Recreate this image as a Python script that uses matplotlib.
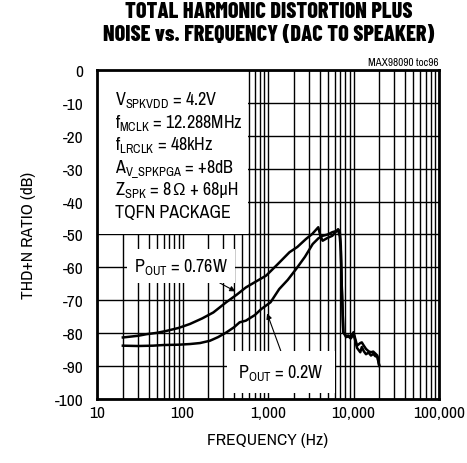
import matplotlib
matplotlib.use("Agg")
import matplotlib.pyplot as plt
from matplotlib.patches import Rectangle
from matplotlib.transforms import IdentityTransform
from matplotlib.ticker import FixedLocator, NullFormatter, LogLocator

BODY_FONT = ["Liberation Sans Narrow", "Archivo Narrow", "Liberation Sans", "DejaVu Sans"]
TITLE_FONT = ["Barlow Condensed", "Roboto Condensed", "Archivo Narrow", "DejaVu Sans"]

plt.rcParams["font.family"] = BODY_FONT
plt.rcParams["axes.unicode_minus"] = False
plt.rcParams["mathtext.fontset"] = "custom"
plt.rcParams["mathtext.rm"] = "Archivo Narrow"

# P_OUT = 0.76W
freq_076 = [20, 30, 38, 50, 65, 90, 122, 170, 229, 324, 430, 550, 700, 950,
            1300, 1780, 2200, 2770, 3300, 3870, 4100, 4350, 5000, 5650, 6600,
            6900, 7100, 7300, 7600, 8200, 8700, 9300, 10000, 11000, 12000,
            12500, 13200, 14000, 15000, 16000, 17000, 18000, 19000, 20000]
thd_076 = [-81.3, -80.8, -80.3, -79.9, -79.3, -78.4, -77.2, -75.5, -73.7, -70.6,
           -68.3, -66.1, -64.5, -62.5, -59.0, -55.4, -53.8, -51.4, -49.8, -47.8,
           -50.5, -51.9, -51.0, -50.4, -48.4, -49.0, -53.4, -66.6, -79.7, -80.9,
           -80.7, -81.4, -79.7, -83.8, -83.0, -82.8, -83.8, -84.8, -85.5, -85.8,
           -85.6, -86.2, -86.8, -89.9]

# P_OUT = 0.2W
freq_02 = [20, 30, 45, 60, 90, 122, 160, 209, 260, 324, 400, 465, 550, 700,
           830, 1070, 1350, 1700, 2130, 2700, 3330, 3870, 4350, 5000, 5650,
           6600, 6900, 7100, 7300, 7600, 8200, 8700, 9300, 10000, 11000, 12000,
           12500, 13200, 14000, 15000, 16000, 17000, 18000, 19000, 20000]
thd_02 = [-83.8, -83.9, -83.8, -83.6, -83.5, -83.3, -83.0, -82.3, -81.2, -79.8,
          -78.2, -76.7, -76.2, -74.5, -72.7, -70.6, -66.6, -63.8, -60.5, -56.8,
          -52.9, -51.2, -50.4, -50.0, -49.3, -48.8, -50.5, -55.0, -66.6, -79.7,
          -81.2, -81.0, -81.6, -80.2, -84.5, -85.8, -84.2, -85.5, -86.4, -85.9,
          -86.8, -86.3, -87.0, -87.2, -89.9]

x_ticks = [10, 100, 1000, 10000, 100000]
x_ticklabels = ["10", "100", "1,000", "10,000", "100,000"]
y_ticks = [0, -10, -20, -30, -40, -50, -60, -70, -80, -90, -100]

conditions = [
    r"V$_{\mathrm{SPKVDD}}$ = 4.2V",
    r"f$_{\mathrm{MCLK}}$ = 12.288MHz",
    r"f$_{\mathrm{LRCLK}}$ = 48kHz",
    r"A$_{\mathrm{V\_SPKPGA}}$ = +8dB",
    r"Z$_{\mathrm{SPK}}$ = 8",
    "TQFN PACKAGE",
]
z_tail = ["Ω", " + 68μH"]

FS = 13

fig = plt.figure(figsize=(4.67, 4.64), dpi=100)
ax = fig.add_axes([0.208, 0.138, 0.732, 0.709])
ax.set_axisbelow(True)

ax.plot(freq_076, thd_076, color="black", lw=1.8, zorder=3)
ax.plot(freq_02, thd_02, color="black", lw=1.8, zorder=3)

ax.set_xscale("log")
ax.set_xlim(10, 100000)
ax.set_ylim(-100, 0)
ax.xaxis.set_major_locator(FixedLocator(x_ticks))
ax.set_xticklabels(x_ticklabels)
ax.xaxis.set_minor_locator(LogLocator(base=10, subs=range(2, 10)))
ax.xaxis.set_minor_formatter(NullFormatter())
ax.set_yticks(y_ticks)
ax.tick_params(which="both", length=0, labelsize=12.5)
ax.tick_params(axis="x", pad=4)
ax.tick_params(axis="y", pad=10)
ax.grid(which="major", color="black", lw=1.0)
ax.grid(which="minor", axis="x", color="black", lw=1.0)
for s in ax.spines.values():
    s.set_linewidth(2)
    s.set_zorder(5)

ax.set_xlabel("FREQUENCY (Hz)", fontsize=12.5, labelpad=9)
ax.set_ylabel("THD+N RATIO (dB)", fontsize=12.5, labelpad=13)

fig.text(0.575, 0.975, "TOTAL HARMONIC DISTORTION PLUS", ha="center", va="center",
         fontsize=16, fontweight=800, family=TITLE_FONT)
fig.text(0.575, 0.925, "NOISE vs. FREQUENCY (DAC TO SPEAKER)", ha="center",
         va="center", fontsize=16, fontweight=800, family=TITLE_FONT)
fig.text(0.94, 0.865, "MAX98090 toc96", ha="right", va="center", fontsize=8)

# white panel behind the test conditions
ax.add_patch(Rectangle((0.0, 0.50), 0.44, 0.50, transform=ax.transAxes,
                       facecolor="white", edgecolor="none", zorder=2))
line_y = [0.897, 0.828, 0.760, 0.691, 0.622, 0.553]
cond_texts = []
for txt, y in zip(conditions, line_y):
    cond_texts.append(ax.text(0.053, y, txt, transform=ax.transAxes, ha="left",
                              va="baseline", fontsize=FS, zorder=4))

# the Z line needs the omega sign from a font that has it
renderer = fig.canvas.get_renderer()
zb = cond_texts[4].get_window_extent(renderer)
ybase = ax.transAxes.transform((0, line_y[4]))[1]
om = ax.text(zb.x1 + 0.5, ybase, z_tail[0], transform=IdentityTransform(),
             ha="left", va="baseline", fontsize=FS - 1,
             family=["Liberation Sans", "DejaVu Sans"], zorder=4)
ob = om.get_window_extent(renderer)
ax.text(ob.x1 + 0.5, ybase, z_tail[1], transform=IdentityTransform(), ha="left",
        va="baseline", fontsize=FS, zorder=4)

ax.annotate(r"P$_{\mathrm{OUT}}$ = 0.76W", xy=(415, -67.3), xytext=(95, -59.6),
            fontsize=FS, ha="center", va="center", zorder=4,
            bbox=dict(facecolor="white", edgecolor="none", pad=5),
            arrowprops=dict(arrowstyle="-|>", color="black", lw=0.8,
                            mutation_scale=8, shrinkA=0, shrinkB=0,
                            relpos=(0.78, 0.0)))
ax.annotate(r"P$_{\mathrm{OUT}}$ = 0.2W", xy=(975, -74.0), xytext=(1400, -91.8),
            fontsize=FS, ha="center", va="center", zorder=4,
            bbox=dict(facecolor="white", edgecolor="none", pad=8),
            arrowprops=dict(arrowstyle="-|>", color="black", lw=0.8,
                            mutation_scale=8, shrinkA=0, shrinkB=0,
                            relpos=(0.55, 1.0)))

fig.savefig("out.png", dpi=100)
